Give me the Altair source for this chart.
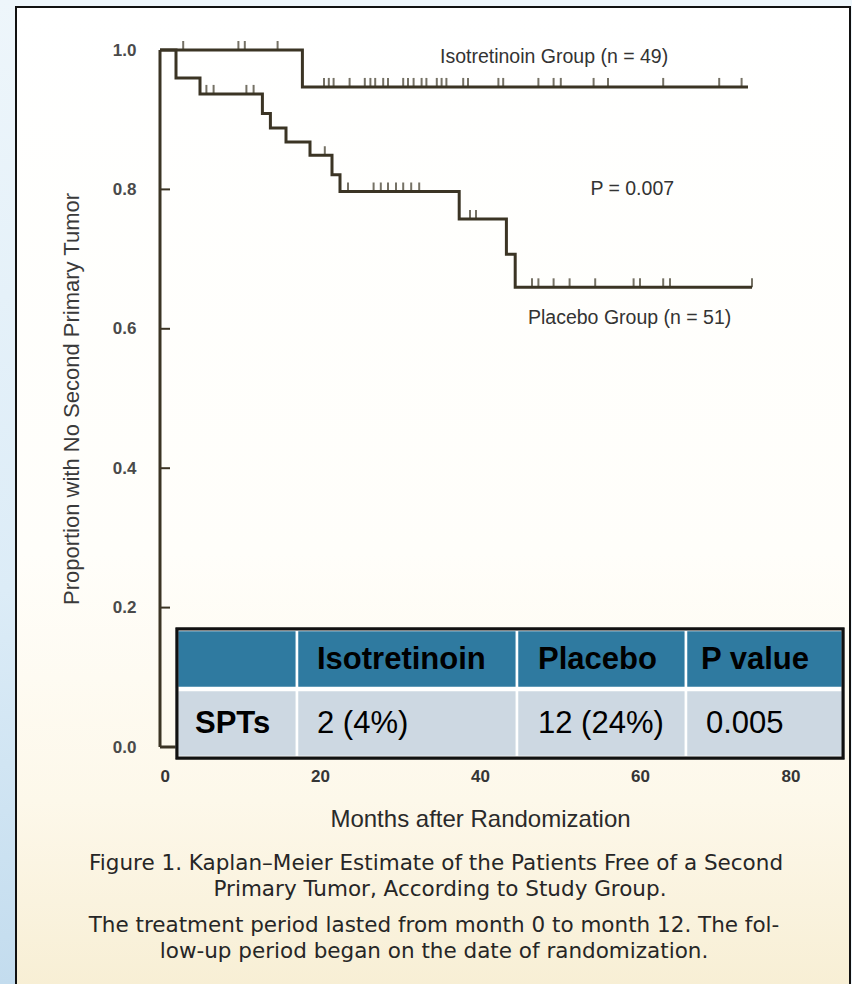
import altair as alt
import pandas as pd

# ---------------------------------------------------------------
# Kaplan-Meier step points: month after randomization, proportion
# of patients still free of a second primary tumor
# ---------------------------------------------------------------
iso_months = [0, 17.8, 73.5]
iso_surv = [1.0, 0.947, 0.947]

plc_months = [0, 2.0, 5.0, 12.8, 13.8, 15.75, 18.75, 21.5, 22.5, 37.4, 43.3, 44.4, 74.0]
plc_surv = [1.0, 0.960, 0.937, 0.909, 0.888, 0.868, 0.849, 0.821, 0.797, 0.7575, 0.707, 0.6595, 0.6595]

# censored observations (months)
iso_censored = [2.9, 9.8, 10.6, 14.7,
                20.5, 21.1, 21.7, 23.7, 25.6, 26.3, 26.9, 27.9, 28.5, 30.4, 31.0, 31.7,
                32.7, 33.3, 34.6, 35.2, 35.8, 37.9, 38.5, 42.3, 42.9, 47.3, 49.2, 50.1,
                54.2, 56.0, 62.9, 69.9, 72.7]
plc_censored = [5.8, 6.7, 10.8, 11.7, 20.6, 23.5, 26.7, 27.6, 28.5, 29.5, 30.4, 31.4, 32.4,
                38.75, 39.5, 46.5, 47.3, 49.2, 51.2, 54.4, 59.2, 60.0, 62.9, 63.75, 74.0]

y_ticks = [0.0, 0.2, 0.4, 0.6, 0.8, 1.0]
x_ticks = [0, 20, 40, 60, 80]

group_labels = ["Isotretinoin Group (n = 49)", "Placebo Group (n = 51)"]
p_label = "P = 0.007"

table_header = ["", "Isotretinoin", "Placebo", "P value"]
table_row = ["SPTs", "2 (4%)", "12 (24%)", "0.005"]

caption_lines = [
    "Figure 1. Kaplan\u2013Meier Estimate of the Patients Free of a Second",
    "Primary Tumor, According to Study Group.",
    "The treatment period lasted from month 0 to month 12. The fol-",
    "low-up period began on the date of randomization.",
]

# ---------------------------------------------------------------
# styling / layout
# ---------------------------------------------------------------
INK = "#3b3424"
TEXT = "#353535"
FONT = "Liberation Sans"
CFONT = "DejaVu Sans"
TFONT = "Liberation Sans"
W, H = 640, 697


def level_at(months, surv, t):
    lvl = surv[0]
    for m, s in zip(months, surv):
        if m <= t:
            lvl = s
    return lvl


curves = pd.DataFrame(
    [{"month": m, "surv": s, "group": "Isotretinoin"} for m, s in zip(iso_months, iso_surv)]
    + [{"month": m, "surv": s, "group": "Placebo"} for m, s in zip(plc_months, plc_surv)]
)
censor = pd.DataFrame(
    [{"month": t, "surv": level_at(iso_months, iso_surv, t), "group": "Isotretinoin"} for t in iso_censored]
    + [{"month": t, "surv": level_at(plc_months, plc_surv, t), "group": "Placebo"} for t in plc_censored]
)

xs = alt.Scale(domain=[0, 80], nice=False, zero=False)
ys = alt.Scale(domain=[0, 1], nice=False)

# page background: cream paper inside a black frame, pale blue margin
paper = alt.Chart(pd.DataFrame({"a": [0]})).mark_rect(
    fill=alt.LinearGradient(
        gradient="linear", x1=0, x2=0, y1=0, y2=1,
        stops=[alt.GradientStop(offset=0, color="#ffffff"),
               alt.GradientStop(offset=0.55, color="#fffefa"),
               alt.GradientStop(offset=0.8, color="#fdf8ea"),
               alt.GradientStop(offset=1, color="#f7eed3")]),
    stroke="#111111", strokeWidth=2,
).encode(x=alt.value(-144), x2=alt.value(690), y=alt.value(-43), y2=alt.value(950))

margin = alt.Chart(pd.DataFrame({"a": [0]})).mark_rect(
    fill=alt.LinearGradient(
        gradient="linear", x1=0, x2=0, y1=0, y2=1,
        stops=[alt.GradientStop(offset=0, color="#eef6fb"),
               alt.GradientStop(offset=0.6, color="#dcecf7"),
               alt.GradientStop(offset=1, color="#c3dcee")]),
).encode(x=alt.value(-160), x2=alt.value(-145), y=alt.value(-50), y2=alt.value(934))

# axis lines drawn as marks so the table can sit on top of the x axis
y_axis_line = alt.Chart(pd.DataFrame({"lo": [0.0], "hi": [1.0]})).mark_rule(
    color=INK, strokeWidth=3
).encode(x=alt.value(0), y=alt.Y("lo:Q", scale=ys), y2="hi:Q")
x_axis_line = alt.Chart(pd.DataFrame({"lo": [0.0], "hi": [80.0]})).mark_rule(
    color=INK, strokeWidth=3
).encode(y=alt.value(H), x=alt.X("lo:Q", scale=xs), x2="hi:Q")

lines = alt.Chart(curves).mark_line(interpolate="step-after", strokeWidth=3, color=INK).encode(
    x=alt.X("month:Q", scale=xs,
            axis=alt.Axis(values=x_ticks, format="d", ticks=False, grid=False, domain=False,
                          zindex=1, labelPadding=21,
                          labelFont=FONT, labelFontSize=17, labelFontWeight="bold",
                          labelColor=TEXT, title="Months after Randomization",
                          titleFont=FONT, titleFontSize=24, titleFontWeight="normal",
                          titleColor="#2a2a2a", titlePadding=23)),
    y=alt.Y("surv:Q", scale=ys,
            axis=alt.Axis(values=y_ticks, format=".1f", ticks=False, grid=False, domain=False,
                          zindex=1, labelPadding=24,
                          labelFont=FONT, labelFontSize=17, labelFontWeight="bold",
                          labelColor="#4a4a4a",
                          title="Proportion with No Second Primary Tumor",
                          titleFont=FONT, titleFontSize=22, titleFontWeight="normal",
                          titleColor="#3a3a3a", titlePadding=29)),
    detail="group:N",
)

censor_marks = alt.Chart(censor).mark_tick(
    orient="vertical", size=9, thickness=2, color=INK, yOffset=-4.5
).encode(x=alt.X("month:Q", scale=xs), y=alt.Y("surv:Q", scale=ys))

# inward tick marks on the y axis
ytick_df = pd.DataFrame({"v": y_ticks[1:-1]})
ytick_marks = alt.Chart(ytick_df).mark_rule(color=INK, strokeWidth=2).encode(
    y=alt.Y("v:Q", scale=ys), x=alt.value(0), x2=alt.value(10)
)

ann = pd.DataFrame({
    "month": [35.0, 53.8, 46.0],
    "surv": [0.99, 0.80, 0.616],
    "label": [group_labels[0], p_label, group_labels[1]],
})
ann_marks = alt.Chart(ann).mark_text(
    align="left", baseline="middle", font=FONT, fontSize=19.5, color="#333333"
).encode(x=alt.X("month:Q", scale=xs), y=alt.Y("surv:Q", scale=ys), text="label:N")

# ---------------- summary table (pixel layout) ----------------
col_edges = [17, 137, 357, 526, 683]
row_edges = [(580, 638), (640, 707)]
text_x = [35, 157, 378, 541]
cells = []
for r, (values, fill) in enumerate([(table_header, "#2f7aa0"), (table_row, "#cdd8e2")]):
    for c, val in enumerate(values):
        cells.append({
            "x": col_edges[c], "x2": col_edges[c + 1],
            "y": row_edges[r][0], "y2": row_edges[r][1],
            "tx": text_x[c] + (5 if (r == 1 and c == 3) else 0),
            "ty": (row_edges[r][0] + row_edges[r][1]) / 2 + (1 if r == 0 else 0),
            "text": val, "fill": fill,
            "weight": "bold" if (r == 0 or c == 0) else "normal",
        })
cells = pd.DataFrame(cells)

table_bg = alt.Chart(pd.DataFrame({"a": [0]})).mark_rect(
    fill="#ffffff", stroke="#111111", strokeWidth=3
).encode(x=alt.value(col_edges[0]), x2=alt.value(col_edges[-1]),
         y=alt.value(row_edges[0][0] - 1), y2=alt.value(row_edges[1][1] + 1))

table_cells = alt.Chart(cells).mark_rect(stroke="#ffffff", strokeWidth=2.5).encode(
    x=alt.X("x:Q", scale=None), x2="x2:Q",
    y=alt.Y("y:Q", scale=None), y2="y2:Q",
    fill=alt.Fill("fill:N", scale=None),
)
table_outline = alt.Chart(pd.DataFrame({"a": [0]})).mark_rect(
    fill=None, stroke="#111111", strokeWidth=3
).encode(x=alt.value(col_edges[0]), x2=alt.value(col_edges[-1]),
         y=alt.value(row_edges[0][0] - 1), y2=alt.value(row_edges[1][1] + 1))

table_bold = alt.Chart(cells[cells["weight"] == "bold"]).mark_text(
    align="left", baseline="middle", font=TFONT, fontSize=31, fontWeight="bold", color="#000000"
).encode(x=alt.X("tx:Q", scale=None), y=alt.Y("ty:Q", scale=None), text="text:N")
table_plain = alt.Chart(cells[cells["weight"] == "normal"]).mark_text(
    align="left", baseline="middle", font=TFONT, fontSize=31, color="#000000"
).encode(x=alt.X("tx:Q", scale=None), y=alt.Y("ty:Q", scale=None), text="text:N")

# ---------------- caption under the figure ----------------
cap = pd.DataFrame({
    "text": caption_lines,
    "cx": [276, 280, 274, 274],
    "cy": [814, 840, 876, 902],
})
caption = alt.Chart(cap).mark_text(
    align="center", baseline="middle", font=CFONT, fontSize=21.5, color="#262626"
).encode(x=alt.X("cx:Q", scale=None), y=alt.Y("cy:Q", scale=None), text="text:N")

chart = alt.layer(
    margin, paper, y_axis_line, x_axis_line, lines, censor_marks, ytick_marks, ann_marks,
    table_bg, table_cells, table_outline, table_bold, table_plain, caption,
).properties(
    width=W, height=H,
    autosize=alt.AutoSizeParams(type="none"),
    padding={"left": 160, "top": 50, "right": 52, "bottom": 237},
    background="#eef6fb",
).configure_view(stroke=None)

chart.save("out.html", embed_options={"renderer": "svg", "actions": False})
